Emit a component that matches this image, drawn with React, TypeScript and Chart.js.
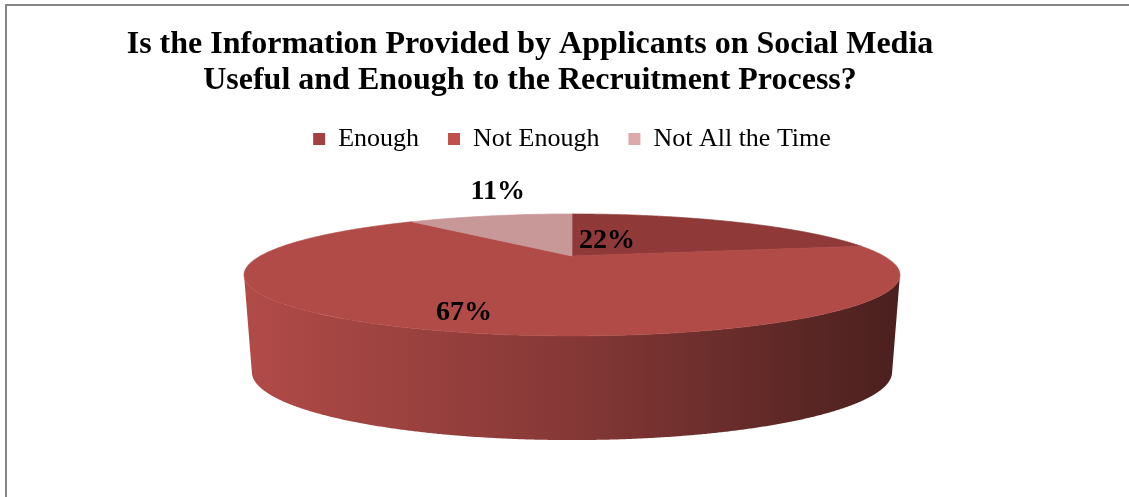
import React, { useEffect, useRef } from 'react';
import { Chart, registerables, PieController, ArcElement } from 'chart.js';

const titleLines = [
  'Is the Information Provided by Applicants on Social Media',
  'Useful and Enough to the Recruitment Process?',
];
const categories = ['Enough', 'Not Enough', 'Not All the Time'];
const values = [22, 67, 11];
const faceColors = ['#8f3a38', '#b14b48', '#c79897'];
const legendColors = ['#a04341', '#c0504d', '#dcaaa9'];

const SERIF = "'Liberation Serif', 'Times New Roman', serif";

// 3D view parameters, as ratios of the pie radius computed by Chart.js
const VIEW = {
  stretch: 3.316,
  tilt: 0.586,
  persp: 0.311,
  drop: 1.0245,
  stretchB: 3.259,
  tiltB: 0.663,
  perspB: 0.29,
};

function project(cx: number, cy: number, R: number, a: number, r: number, bottom: boolean): [number, number] {
  const u = Math.cos(a) * r;
  const v = Math.sin(a) * r;
  if (!bottom) {
    const w = 1 - VIEW.persp * v;
    return [cx + (R * VIEW.stretch * u) / w, cy + (R * VIEW.tilt * v) / w];
  }
  const w = 1 - VIEW.perspB * v;
  return [cx + (R * VIEW.stretchB * u) / w, cy + R * VIEW.drop + (R * VIEW.tiltB * v) / w];
}

function shade(hex: string, f: number) {
  const h = hex.replace('#', '');
  const r = Math.round(parseInt(h.slice(0, 2), 16) * f);
  const g = Math.round(parseInt(h.slice(2, 4), 16) * f);
  const b = Math.round(parseInt(h.slice(4, 6), 16) * f);
  return `rgb(${r},${g},${b})`;
}

class Arc3D extends ArcElement {
  static id = 'arc3d';
  draw(ctx: CanvasRenderingContext2D) {
    const self: any = this;
    const { x, y, startAngle, endAngle } = self;
    const R = self.outerRadius;
    const color = self.options.backgroundColor as string;
    const step = Math.PI / 720;
    ctx.save();
    // side wall (front half only)
    const vis0 = Math.asin(VIEW.persp);
    const vis1 = Math.PI - vis0;
    const s = Math.max(startAngle, vis0);
    const e = Math.min(endAngle, vis1);
    if (e > s) {
      ctx.beginPath();
      let first = true;
      for (let a = s; ; a += step) {
        const aa = Math.min(a, e);
        const p = project(x, y, R, aa, 1, false);
        if (first) { ctx.moveTo(p[0], p[1]); first = false; } else ctx.lineTo(p[0], p[1]);
        if (aa >= e) break;
      }
      for (let a = e; ; a -= step) {
        const aa = Math.max(a, s);
        const p = project(x, y, R, aa, 1, true);
        ctx.lineTo(p[0], p[1]);
        if (aa <= s) break;
      }
      ctx.closePath();
      const half = (R * VIEW.stretch) / Math.sqrt(1 - VIEW.persp * VIEW.persp);
      const g = ctx.createLinearGradient(x - half, 0, x + half, 0);
      g.addColorStop(0, shade(color, 1));
      g.addColorStop(0.5, shade(color, 0.75));
      g.addColorStop(1, shade(color, 0.42));
      ctx.fillStyle = g;
      ctx.fill();
    }
    // top face
    ctx.beginPath();
    const c = project(x, y, R, 0, 0, false);
    ctx.moveTo(c[0], c[1]);
    for (let a = startAngle; ; a += step) {
      const aa = Math.min(a, endAngle);
      const p = project(x, y, R, aa, 1, false);
      ctx.lineTo(p[0], p[1]);
      if (aa >= endAngle) break;
    }
    ctx.closePath();
    ctx.fillStyle = color;
    ctx.fill();
    ctx.strokeStyle = color;
    ctx.lineWidth = 0.7;
    ctx.lineJoin = 'round';
    ctx.stroke();
    ctx.restore();
  }
}

class Pie3DController extends PieController {
  static id = 'pie3d';
  static defaults = { dataElementType: 'arc3d' };
}

Chart.register(...registerables, Arc3D as any, Pie3DController as any);

const borderPlugin = {
  id: 'frameBorder',
  beforeDraw(chart: any) {
    const ctx = chart.ctx;
    ctx.save();
    ctx.fillStyle = '#868686';
    ctx.fillRect(5, 4, chart.width - 5, 2);
    ctx.fillRect(5, 4, 2, chart.height - 4);
    ctx.restore();
  },
};

const titlePlugin = {
  id: 'offsetTitle',
  afterDraw(chart: any, _a: any, opts: any) {
    const ctx = chart.ctx;
    ctx.save();
    ctx.font = `bold ${opts.size}px ${SERIF}`;
    ctx.fillStyle = '#000';
    ctx.textAlign = 'center';
    ctx.textBaseline = 'alphabetic';
    (opts.lines as string[]).forEach((t, i) => {
      ctx.fillText(t, opts.x, opts.y + i * opts.lineHeight);
    });
    ctx.restore();
  },
};

const labelPlugin = {
  id: 'pieLabels',
  afterDatasetsDraw(chart: any, _a: any, opts: any) {
    const ctx = chart.ctx;
    const meta = chart.getDatasetMeta(0);
    const data = chart.data.datasets[0].data as number[];
    const total = data.reduce((s, v) => s + v, 0);
    ctx.save();
    ctx.font = `bold ${opts.size}px ${SERIF}`;
    ctx.fillStyle = '#000';
    ctx.textAlign = 'center';
    ctx.textBaseline = 'middle';
    meta.data.forEach((el: any, i: number) => {
      const place = opts.place[i];
      const mid = (el.startAngle + el.endAngle) / 2 + (place.shift * Math.PI) / 180;
      const p = project(el.x, el.y, el.outerRadius, mid, place.r, false);
      ctx.fillText(`${Math.round((data[i] / total) * 100)}%`, p[0], p[1]);
    });
    ctx.restore();
  },
};

export default function App() {
  const ref = useRef<HTMLCanvasElement>(null);
  useEffect(() => {
    if (!ref.current) return;
    const chart = new Chart(ref.current, {
      type: 'pie3d' as any,
      data: {
        labels: categories,
        datasets: [{ data: values, backgroundColor: faceColors, borderWidth: 0 } as any],
      },
      options: {
        responsive: false,
        animation: false,
        layout: { padding: { top: 97, bottom: 147, left: 20, right: 5 } },
        plugins: {
          legend: {
            position: 'top',
            labels: {
              boxWidth: 12,
              boxHeight: 12,
              padding: 29,
              color: '#000',
              font: { family: SERIF, size: 26 },
              generateLabels: () =>
                categories.map((c, i) => ({
                  text: c,
                  fillStyle: legendColors[i],
                  strokeStyle: legendColors[i],
                  lineWidth: 0,
                  hidden: false,
                  index: i,
                  fontColor: '#000',
                })),
            },
          },
          tooltip: { enabled: false },
          offsetTitle: { lines: titleLines, x: 530, y: 53, lineHeight: 36, size: 32 },
          pieLabels: {
            size: 28,
            place: [
              { r: 0.321, shift: -17.1 },
              { r: 0.826, shift: -1.3 },
              { r: 1.855, shift: 8.2 },
            ],
          },
        } as any,
      },
      plugins: [borderPlugin, titlePlugin, labelPlugin],
    });
    return () => chart.destroy();
  }, []);
  return (
    <div style={{ position: 'absolute', left: 0, top: 0, width: 1129, height: 497, background: '#fff' }}>
      <canvas ref={ref} width={1129} height={497} style={{ display: 'block', width: 1129, height: 497 }} />
    </div>
  );
}
